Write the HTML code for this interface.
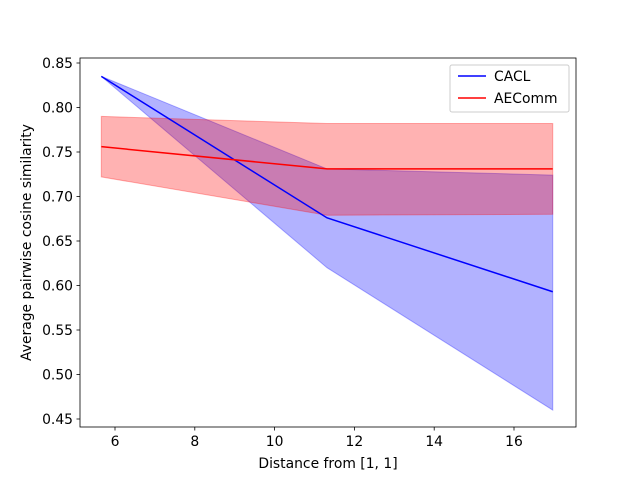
<!DOCTYPE html>
<html><head><meta charset="utf-8"><style>
body{margin:0;background:#fff;font-family:"Liberation Sans","DejaVu Sans",sans-serif;}
svg text{font-family:"DejaVu Sans","Liberation Sans",sans-serif;font-size:13.9px;fill:#000;}
</style></head><body>
<svg id="chart" width="640" height="480" xmlns="http://www.w3.org/2000/svg"></svg>
<script>
const xs = [5.657, 11.314, 16.971];
const caclMean = [0.835, 0.676, 0.593];
const caclUpper = [0.835, 0.731, 0.724];
const caclLower = [0.835, 0.620, 0.460];
const aeMean = [0.756, 0.731, 0.731];
const aeUpper = [0.790, 0.782, 0.782];
const aeLower = [0.722, 0.679, 0.680];
const xTicks = [6, 8, 10, 12, 14, 16];
const yTicks = [0.45, 0.50, 0.55, 0.60, 0.65, 0.70, 0.75, 0.80, 0.85];

const L=80,R=576,T=58,B=427;
const X=v=>115+(v-6)*(514-115)/10;
const Y=v=>63+(0.85-v)*(419-63)/0.4;
const svg=document.getElementById('chart');
const NS='http://www.w3.org/2000/svg';
function mk(tag,attrs,parent){const e=document.createElementNS(NS,tag);for(const k in attrs)e.setAttribute(k,attrs[k]);(parent||svg).appendChild(e);return e;}
function band(up,lo,color,name){
  let pts=xs.map((x,i)=>X(x)+','+Y(up[i]));
  pts=pts.concat(xs.map((x,i)=>X(x)+','+Y(lo[i])).reverse());
  const p=mk('polygon',{points:pts.join(' '),fill:color,'fill-opacity':0.3,stroke:color,'stroke-opacity':0.3});
  
  
}
function line(m,color,name){
  const p=mk('polyline',{points:xs.map((x,i)=>X(x)+','+Y(m[i])).join(' '),fill:'none',stroke:color,'stroke-width':1.5});
  
  
}
band(caclUpper,caclLower,'#0000ff','cacl-band');
band(aeUpper,aeLower,'#ff0000','aecomm-band');
line(caclMean,'#0000ff','cacl-line');
line(aeMean,'#ff0000','aecomm-line');
const fr=mk('rect',{x:L,y:T,width:R-L,height:B-T,fill:'none',stroke:'#000','stroke-width':0.8});


xTicks.forEach(t=>{
  mk('line',{x1:X(t),x2:X(t),y1:B,y2:B+3.5,stroke:'#000','stroke-width':0.8});
  const tx=mk('text',{x:X(t),y:B+19,'text-anchor':'middle'});tx.textContent=t;
  
  
});
yTicks.forEach(t=>{
  mk('line',{x1:L-3.5,x2:L,y1:Y(t),y2:Y(t),stroke:'#000','stroke-width':0.8});
  const tx=mk('text',{x:L-7,y:Y(t)+5,'text-anchor':'end'});tx.textContent=t.toFixed(2);
  
  
});
const xt=mk('text',{x:(L+R)/2,y:468,'text-anchor':'middle'});xt.textContent='Distance from [1, 1]';


const yt=mk('text',{x:0,y:0,'text-anchor':'middle',transform:'translate(31,'+((T+B)/2)+') rotate(-90)'});yt.textContent='Average pairwise cosine similarity';


const lg=mk('g',{});


mk('rect',{x:450,y:65,width:119,height:47,rx:2,fill:'#fff','fill-opacity':0.8,stroke:'#ccc'},lg);
[['CACL','#0000ff',80],['AEComm','#ff0000',102]].forEach(([n,c,y])=>{
  mk('line',{x1:458,x2:486,y1:y-4,y2:y-4,stroke:c,'stroke-width':1.5},lg);
  const t=mk('text',{x:494,y:y+1},lg);t.textContent=n;
  
  
});
</script>
</body></html>
